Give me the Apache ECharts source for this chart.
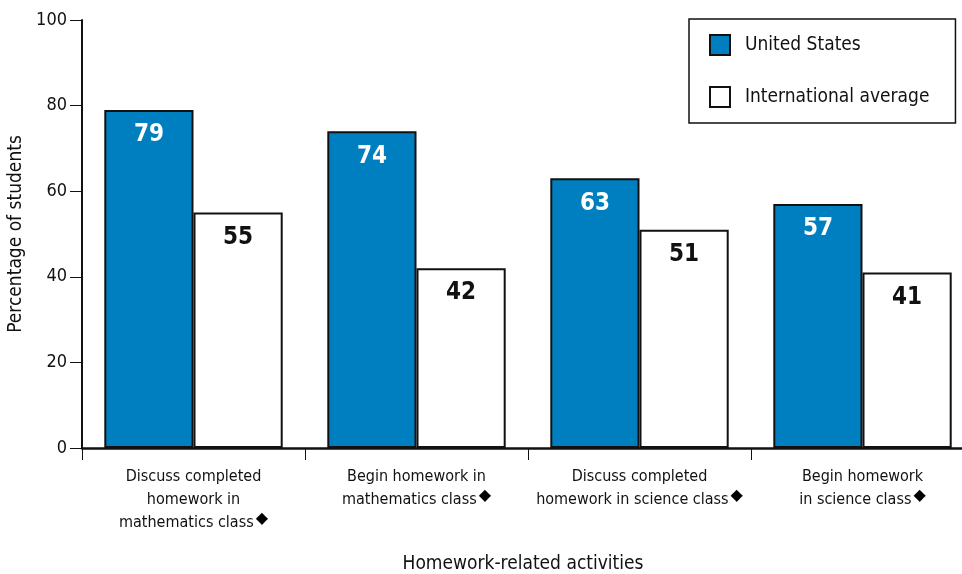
<!DOCTYPE html>
<html>
<head>
<meta charset="utf-8">
<script src="https://cdn.jsdelivr.net/npm/echarts@6/dist/echarts.min.js"></script>
<style>
  html, body { margin: 0; padding: 0; background: #fff; }
  #chart { width: 962px; height: 574px; }
</style>
</head>
<body>
<div id="chart"></div>
<script>
// Homework-related activities: share of students, US vs. international average
const categories = [
  'Discuss completed\nhomework in\nmathematics class',
  'Begin homework in\nmathematics class',
  'Discuss completed\nhomework in science class',
  'Begin homework\nin science class'
];
const unitedStates = [79, 74, 63, 57];
const internationalAverage = [55, 42, 51, 41];
const yTicks = [0, 20, 40, 60, 80, 100];

const FONT = '"Liberation Sans Narrow", "DejaVu Sans Condensed", "Roboto", sans-serif';
const BLUE = '#007fc0';

// Add the diamond marker after the last line of each category label
function formatCategory(value) {
  const lines = value.split('\n');
  return lines.map((l, i) => i === lines.length - 1 ? '{t|' + l + '}{d|◆}' : '{t|' + l + '}').join('\n');
}

const chart = echarts.init(document.getElementById('chart'), null, { renderer: 'canvas' });

chart.setOption({
  animation: false,
  textStyle: { fontFamily: FONT },
  // plot area runs slightly past the right edge of the canvas
  grid: { left: 82, width: 892, top: 20, height: 428, containLabel: false, outerBoundsMode: 'none' },
  legend: {
    orient: 'vertical',
    left: 689,
    top: 19,
    padding: [15, 26, 15, 20],
    itemWidth: 20,
    itemHeight: 20,
    itemGap: 30,
    borderColor: '#111',
    borderWidth: 1.5,
    icon: 'rect',
    textStyle: { fontFamily: FONT, fontSize: 19, color: '#111', padding: [0, 0, 0, 10] },
    data: ['United States', 'International average']
  },
  xAxis: {
    type: 'category',
    data: categories,
    name: 'Homework-related activities',
    nameLocation: 'middle',
    nameGap: 107,
    nameTextStyle: { fontFamily: FONT, fontSize: 19, color: '#111', padding: [0, 10, 0, 0] },
    axisLine: { lineStyle: { color: '#111', width: 2.5 } },
    axisTick: { show: true, length: 12, lineStyle: { color: '#111', width: 1 } },
    axisLabel: {
      interval: 0,
      margin: 17,
      formatter: formatCategory,
      rich: {
        t: { fontFamily: FONT, fontSize: 16, color: '#111', lineHeight: 23 },
        d: { fontFamily: 'DejaVu Sans', fontSize: 16, color: '#000', padding: [0, 0, 8, 2] }
      }
    }
  },
  yAxis: {
    type: 'value',
    min: 0,
    max: 100,
    interval: 20,
    name: 'Percentage of students',
    nameLocation: 'middle',
    nameGap: 51,
    nameTextStyle: { fontFamily: FONT, fontSize: 19, color: '#111' },
    axisLine: { show: true, lineStyle: { color: '#111', width: 2 } },
    axisTick: { show: true, length: 12, lineStyle: { color: '#111', width: 1 } },
    axisLabel: {
      margin: 15,
      fontFamily: FONT,
      fontSize: 18,
      color: '#111',
      formatter: v => (yTicks.indexOf(v) >= 0 ? String(v) : '')
    },
    splitLine: { show: false }
  },
  series: [
    {
      name: 'United States',
      type: 'bar',
      data: unitedStates,
      barGap: '0%',
      barCategoryGap: '20%',
      itemStyle: { color: BLUE, borderColor: '#111', borderWidth: 2 },
      label: {
        show: true,
        position: 'insideTop',
        distance: 13,
        fontFamily: FONT,
        fontWeight: 'bold',
        fontSize: 24,
        color: '#fff'
      }
    },
    {
      name: 'International average',
      type: 'bar',
      data: internationalAverage,
      itemStyle: { color: '#fff', borderColor: '#111', borderWidth: 2 },
      label: {
        show: true,
        position: 'insideTop',
        distance: 13,
        fontFamily: FONT,
        fontWeight: 'bold',
        fontSize: 24,
        color: '#111'
      }
    }
  ]
});
</script>
</body>
</html>
